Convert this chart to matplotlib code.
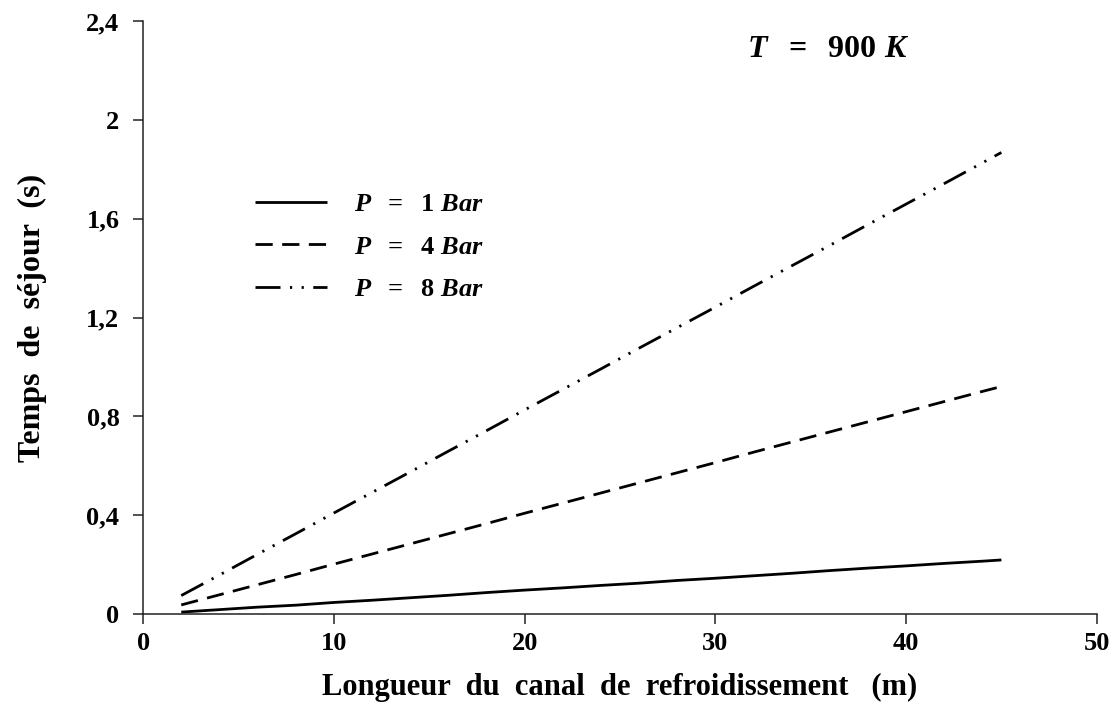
import matplotlib
matplotlib.use("Agg")
import matplotlib.pyplot as plt
from matplotlib.ticker import FixedLocator, FixedFormatter

plt.rcParams['mathtext.fontset'] = 'custom'
plt.rcParams['mathtext.rm'] = 'Liberation Serif:bold'
plt.rcParams['mathtext.it'] = 'Liberation Serif:bold:italic'
plt.rcParams['mathtext.bf'] = 'Liberation Serif:bold'

# Data
x = [2, 4, 6, 8, 10, 12, 14, 16, 18, 20, 22, 24, 26, 28, 30, 32, 34, 36, 38, 40, 42, 44, 45]
p1 = [0.008, 0.018, 0.028, 0.036, 0.047, 0.056, 0.066, 0.076, 0.087, 0.097, 0.106, 0.116,
      0.125, 0.136, 0.145, 0.155, 0.165, 0.176, 0.186, 0.195, 0.205, 0.214, 0.219]
p4 = [0.037, 0.078, 0.119, 0.160, 0.202, 0.243, 0.284, 0.325, 0.366, 0.408, 0.449, 0.490,
      0.531, 0.572, 0.613, 0.655, 0.696, 0.737, 0.778, 0.819, 0.860, 0.901, 0.921]
p8 = [0.075, 0.158, 0.242, 0.325, 0.409, 0.492, 0.575, 0.659, 0.742, 0.826, 0.909, 0.992,
      1.076, 1.159, 1.242, 1.326, 1.409, 1.492, 1.576, 1.659, 1.742, 1.826, 1.868]
xticks = [0, 10, 20, 30, 40, 50]
yticks = [0, 0.4, 0.8, 1.2, 1.6, 2.0, 2.4]
ytick_labels = ["0", "0,4", "0,8", "1,2", "1,6", "2", "2,4"]
series_labels = [r"$P\ \ =\ \ 1\ Bar$", r"$P\ \ =\ \ 4\ Bar$", r"$P\ \ =\ \ 8\ Bar$"]
title_text = r"$T\ \ =\ \ 900\ K$"

fig = plt.figure(figsize=(11.18, 7.25), dpi=100)
ax = fig.add_axes([0.128, 0.153, 0.853, 0.818])

lw = 2.0
l1, = ax.plot(x, p1, color='black', lw=lw, solid_capstyle='butt', label=series_labels[0])
l4, = ax.plot(x, p4, color='black', lw=lw, dashes=(6.2, 3.4), dash_capstyle='butt', label=series_labels[1])
l8, = ax.plot(x, p8, color='black', lw=lw, dashes=(9.0, 3.4, 0.8, 3.4, 0.8, 3.4), dash_capstyle='butt',
              label=series_labels[2])

ax.set_xlim(0, 50)
ax.set_ylim(0, 2.4)
ax.xaxis.set_major_locator(FixedLocator(xticks))
ax.yaxis.set_major_locator(FixedLocator(yticks))
ax.yaxis.set_major_formatter(FixedFormatter(ytick_labels))

for s in ['top', 'right']:
    ax.spines[s].set_visible(False)
for s in ['left', 'bottom']:
    ax.spines[s].set_linewidth(1.1)
    ax.spines[s].set_color('#222222')

ax.tick_params(axis='both', direction='out', length=7, width=1.1, color='#222222',
               labelsize=19)
ax.tick_params(axis='y', pad=10)
ax.tick_params(axis='x', pad=6)
for lab in ax.get_xticklabels() + ax.get_yticklabels():
    lab.set_fontfamily('Liberation Serif')
    lab.set_fontweight('bold')

ax.set_xlabel("Longueur  du  canal  de  refroidissement   (m)", fontfamily='Liberation Serif',
              fontweight='bold', fontsize=22, labelpad=12.5)
ax.set_ylabel("Temps  de  séjour  (s)", fontfamily='Liberation Serif',
              fontweight='bold', fontsize=23, labelpad=28)

ax.text(0.718, 0.954, title_text, transform=ax.transAxes, fontsize=23, ha='center', va='center')

leg = ax.legend(handles=[l1, l4, l8], loc='upper left', bbox_to_anchor=(0.117, 0.713),
                frameon=False, fontsize=19, handlelength=2.75, handletextpad=1.0,
                labelspacing=0.62, borderpad=0, borderaxespad=0)

fig.savefig("out.png", dpi=100)
